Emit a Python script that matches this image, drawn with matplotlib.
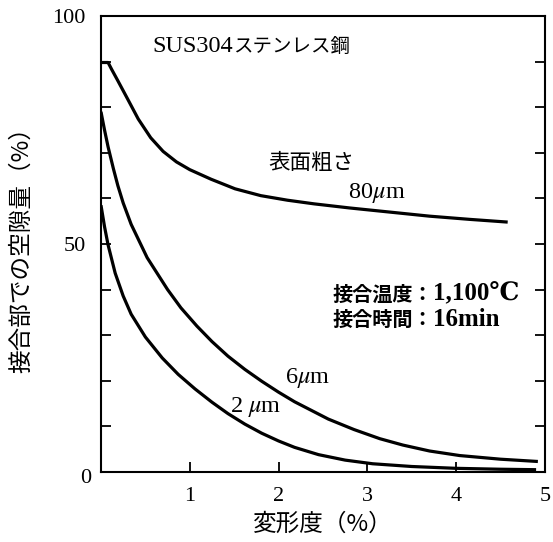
import matplotlib
matplotlib.use('Agg')
import matplotlib.pyplot as plt
from matplotlib.ticker import MultipleLocator

plt.rcParams['font.family'] = ['Liberation Serif', 'DejaVu Serif', 'Noto Sans CJK JP']
plt.rcParams['mathtext.fontset'] = 'stix'

# curves (deformation %, void %)
x_80um = [0.01, 0.08, 0.12, 0.19, 0.30, 0.42, 0.56, 0.70, 0.85, 1.0, 1.24, 1.51, 1.8, 2.1, 2.4, 2.8, 3.25, 3.7, 4.15, 4.58]
y_80um = [89.8, 89.8, 88.3, 85.8, 81.8, 77.4, 73.3, 70.3, 68.0, 66.3, 64.2, 62.1, 60.6, 59.6, 58.8, 57.9, 57.0, 56.1, 55.4, 54.8]

x_6um = [0, 0.04, 0.08, 0.14, 0.19, 0.25, 0.34, 0.52, 0.75, 0.9, 1.08, 1.25, 1.43, 1.62, 1.81, 2.0, 2.18, 2.56, 2.85, 3.14, 3.4, 3.7, 4.04, 4.5, 4.92]
y_6um = [79.0, 75.0, 71.3, 66.5, 62.8, 59.0, 54.3, 47.0, 40.0, 36.0, 32.0, 28.6, 25.4, 22.5, 19.9, 17.5, 15.4, 11.6, 9.3, 7.3, 5.9, 4.6, 3.6, 2.8, 2.3]

x_2um = [0, 0.04, 0.08, 0.16, 0.25, 0.34, 0.5, 0.69, 0.87, 1.06, 1.25, 1.43, 1.62, 1.81, 2.0, 2.18, 2.45, 2.75, 3.06, 3.5, 4.0, 4.5, 4.9]
y_2um = [58.5, 53.8, 49.8, 43.6, 38.6, 34.6, 29.6, 25.0, 21.4, 18.2, 15.3, 12.8, 10.5, 8.5, 6.8, 5.4, 3.8, 2.6, 1.8, 1.2, 0.8, 0.6, 0.5]

xticks = [0, 1, 2, 3, 4, 5]
xticklabels = ['', '1', '2', '3', '4', '5']
yticks = [0, 50, 100]
yticklabels = ['', '50', '100']

LAT = dict(family=['Liberation Serif', 'DejaVu Serif'])
JP = dict(family=['Noto Sans CJK JP'])

fig = plt.figure(figsize=(5.53, 5.42), dpi=100)
ax = fig.add_axes([0.1826, 0.1292, 0.8029, 0.8413])

for xs, ys in [(x_80um, y_80um), (x_6um, y_6um), (x_2um, y_2um)]:
    ax.plot(xs, ys, color='black', lw=2.3, solid_capstyle='butt')

ax.set_xlim(0, 5)
ax.set_ylim(0, 100)
ax.set_xticks(xticks)
ax.set_xticklabels(xticklabels)
ax.set_yticks(yticks)
ax.set_yticklabels(yticklabels)
ax.yaxis.set_minor_locator(MultipleLocator(10))
ax.tick_params(axis='both', which='both', direction='in', length=7, width=1.3,
               labelsize=16)
ax.tick_params(axis='x', pad=11, top=False)
ax.tick_params(axis='y', which='both', right=True, pad=11)
for sp in ax.spines.values():
    sp.set_linewidth(1.5)

# shared origin label, a little below the corner
ax.annotate('0', xy=(0, 0), xycoords='axes fraction', xytext=(-7, -5),
            textcoords='offset points', ha='right', va='center', fontsize=16)

ax.set_xlabel('変形度（%）', fontsize=17, labelpad=5, **JP)
ax.set_ylabel('接合部での空隙量（%）', fontsize=17, labelpad=14, **JP)


def put(x, y, parts):
    # write text pieces one after another, each with its own font
    prev = None
    for s, size, weight, fam in parts:
        if prev is None:
            prev = ax.text(x, y, s, fontsize=size, fontweight=weight, va='center', ha='left', **fam)
        else:
            prev = ax.annotate(s, xy=(1, 0.5), xycoords=prev, fontsize=size, fontweight=weight,
                               va='center', ha='left', **fam)


put(0.575, 93.4, [('SUS304', 17.5, 'normal', LAT), ('ステンレス鋼', 14, 'normal', JP)])
put(1.88, 67.8, [('表面粗さ', 15.5, 'normal', JP)])
put(2.78, 61.2, [(r'80$\mu$m', 17.5, 'normal', LAT)])
put(2.61, 39.0, [('接合温度：', 14.5, 'bold', JP), ('1,100℃', 18, 'bold', LAT)])
put(2.61, 33.4, [('接合時間：', 14.5, 'bold', JP), ('16min', 18, 'bold', LAT)])
put(2.07, 20.6, [(r'6$\mu$m', 17.5, 'normal', LAT)])
put(1.45, 14.3, [(r'2 $\mu$m', 17.5, 'normal', LAT)])

fig.savefig('out.png', dpi=100)
